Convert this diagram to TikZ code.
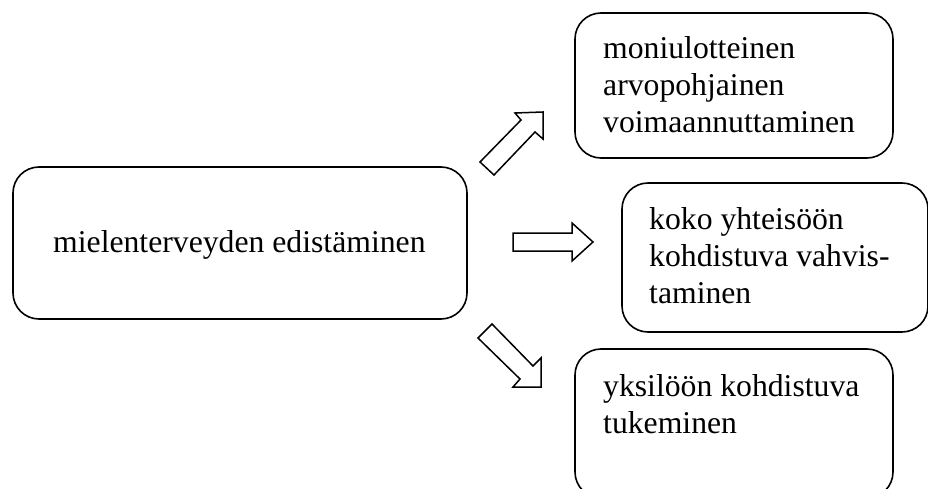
\documentclass[tikz,border=0pt]{standalone}
\usepackage{fontspec}
\setmainfont{Liberation Serif}
\begin{document}
\begin{tikzpicture}[x=1pt,y=-1pt,
  box/.style={draw=black,line width=1.6pt,rounded corners=26pt,rectangle,inner sep=0pt},
  txt/.style={anchor=base west,inner sep=0pt,font=\fontsize{31.7}{37}\selectfont},
  blockarrow/.style={draw=black,line width=1.5pt,line join=miter,fill=white}]
\clip (0,0) rectangle (928,489);
\fill[white] (0,0) rectangle (928,489);
% boxes
\node[box,minimum width=454pt,minimum height=152pt] (main) at (240,243) {};
\node[box,minimum width=318pt,minimum height=145pt] (b1) at (734,85.5) {};
\node[box,minimum width=306pt,minimum height=149pt] (b2) at (775,257.5) {};
\node[box,minimum width=318pt,minimum height=149pt] (b3) at (734,423.5) {};
% texts
\node[txt] (t0) at (53,252) {mielenterveyden edistäminen};
\node[txt] (t11) at (603,59) {moniulotteinen};
\node[txt] (t12) at (603,96) {arvopohjainen};
\node[txt] (t13) at (603,133) {voimaannuttaminen};
\node[txt] (t21) at (649,229) {koko yhteisöön};
\node[txt] (t22) at (649,266) {kohdistuva vahvis-};
\node[txt] (t23) at (649,303) {taminen};
\node[txt] (t31) at (603,396) {yksilöön kohdistuva};
\node[txt] (t32) at (603,433) {tukeminen};
% block arrows
\draw[blockarrow] (480,162) -- (521,120) -- (515,113) -- (543,112) -- (543,139) -- (535,132) -- (494,175) -- cycle;
\draw[blockarrow] (513,233) -- (572,233) -- (572,223) -- (593,242) -- (572,261) -- (572,251) -- (513,251) -- cycle;
\draw[blockarrow] (492,324) -- (533,366) -- (541,358) -- (541,387) -- (513,387) -- (520,379) -- (478,338) -- cycle;
\end{tikzpicture}
\end{document}
